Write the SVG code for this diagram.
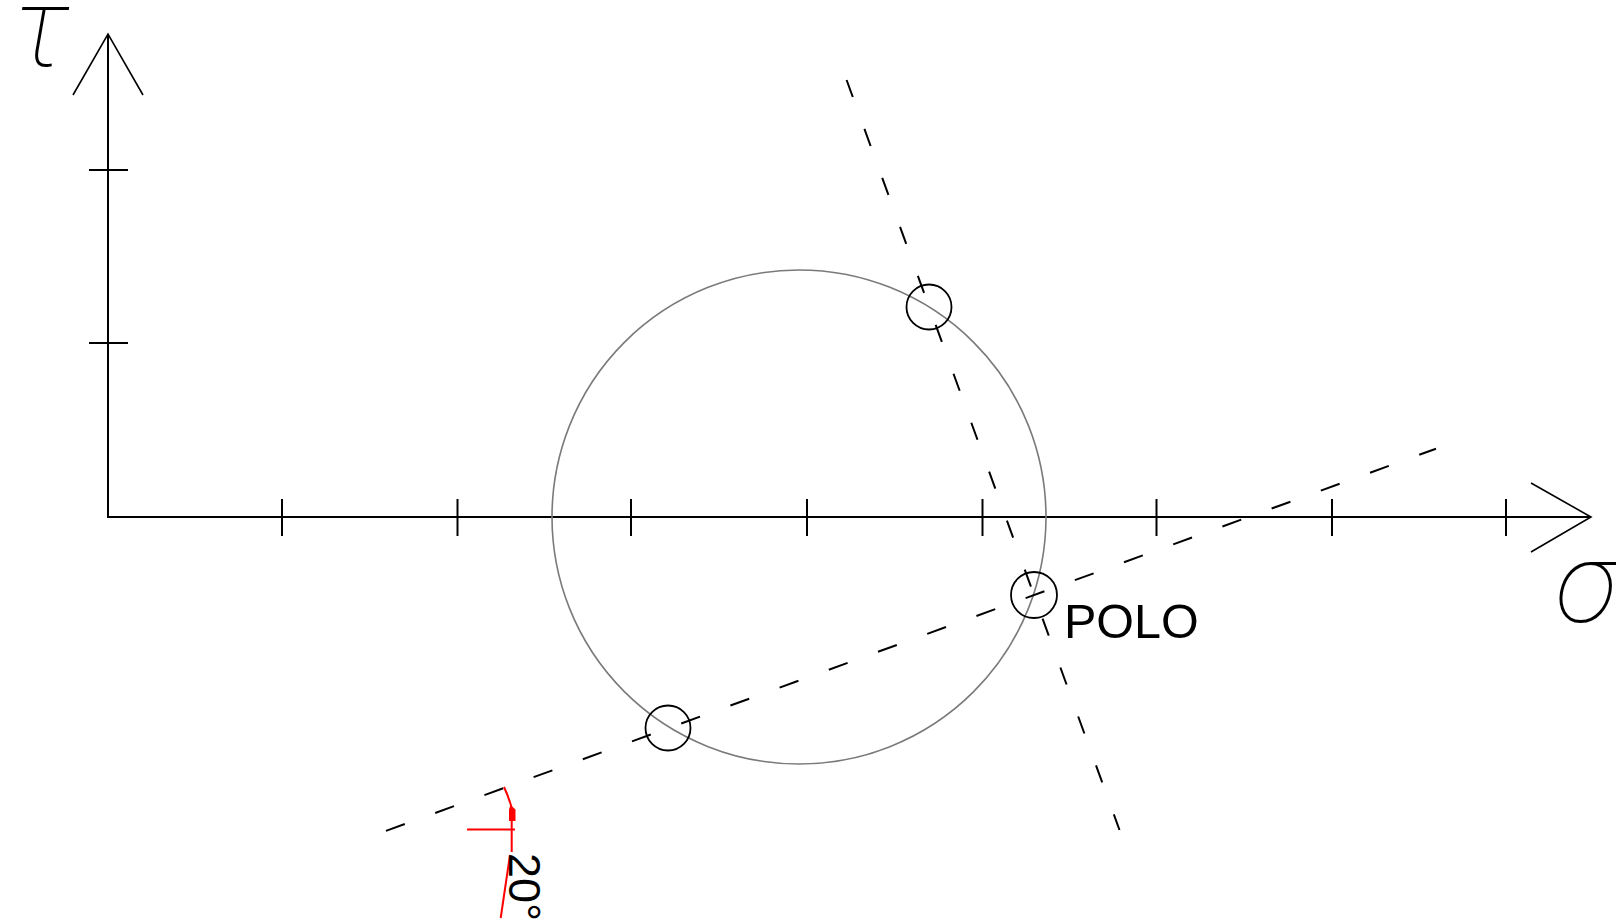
<svg xmlns="http://www.w3.org/2000/svg" width="1616" height="923" viewBox="0 0 1616 923">
  <style>
    .ax { stroke: #000; stroke-width: 2; fill: none; stroke-linecap: butt; }
    .wing { stroke: #000; stroke-width: 1.6; fill: none; }
    .tick { stroke: #000; stroke-width: 2; }
    .mohr { stroke: #7a7a7a; stroke-width: 1.6; fill: none; }
    .pt { stroke: #000; stroke-width: 1.8; fill: none; }
    .dash { stroke: #000; stroke-width: 2; fill: none; }
    .red { stroke: #ff0000; stroke-width: 2; fill: none; }
    .lbl { font-family: "Liberation Sans", Arial, sans-serif; fill: #000; }
    .greek { font-family: Roboto, "DejaVu Sans", sans-serif; font-weight: 100; font-style: italic; fill: #000; }
  </style>
  <rect width="1616" height="923" fill="#fff"/>

  <g id="axes">
    <path class="ax" d="M108,34 L108,517 L1591,517"/>
    <path class="wing" d="M73,95 L108,34 L143,95"/>
    <path class="wing" d="M1531,483 L1591,517 L1531,552"/>
    <g class="tick">
      <line x1="89" y1="170" x2="128" y2="170"/>
      <line x1="89" y1="343" x2="128" y2="343"/>
      <line x1="282" y1="499" x2="282" y2="536"/>
      <line x1="457.5" y1="499" x2="457.5" y2="536"/>
      <line x1="631" y1="499" x2="631" y2="536"/>
      <line x1="807" y1="499" x2="807" y2="536"/>
      <line x1="982.5" y1="499" x2="982.5" y2="536"/>
      <line x1="1156.5" y1="499" x2="1156.5" y2="536"/>
      <line x1="1332" y1="499" x2="1332" y2="536"/>
      <line x1="1506" y1="499" x2="1506" y2="536"/>
    </g>
    <text class="greek" x="14" y="66" font-size="112">τ</text>
    <text class="greek" x="1556" y="622" font-size="114">σ</text>
  </g>

  <g id="mohr-circle">
    <circle class="mohr" cx="799" cy="517" r="247"/>
  </g>

  <g id="connectors">
    <line class="dash" x1="846.6" y1="80" x2="1119.5" y2="830" stroke-dasharray="18.1 34"/>
    <line class="dash" x1="386" y1="830.9" x2="1436" y2="448.7" stroke-dasharray="20 32.36"/>
  </g>

  <g id="point-a">
    <circle class="pt" cx="929" cy="307" r="22.5"/>
  </g>
  <g id="polo">
    <circle class="pt" cx="1034" cy="595" r="23"/>
    <text class="lbl" x="1064" y="638" font-size="48.5">POLO</text>
  </g>
  <g id="point-b">
    <circle class="pt" cx="668" cy="728" r="22.5"/>
  </g>

  <g id="angle-dim">
    <path class="red" d="M504,787 A121,121 0 0 1 511.7,808"/>
    <polygon fill="#ff0000" points="510.5,805 515.5,809.5 515.5,821 509,821 509,809.5"/>
    <line class="red" x1="467" y1="829.5" x2="515" y2="829.5"/>
    <line class="red" x1="511.7" y1="808" x2="511.7" y2="852"/>
    <line class="red" x1="510" y1="855" x2="500.7" y2="918"/>
    <text class="lbl" transform="translate(509,853) rotate(90)" font-size="45">20°</text>
  </g>
</svg>
